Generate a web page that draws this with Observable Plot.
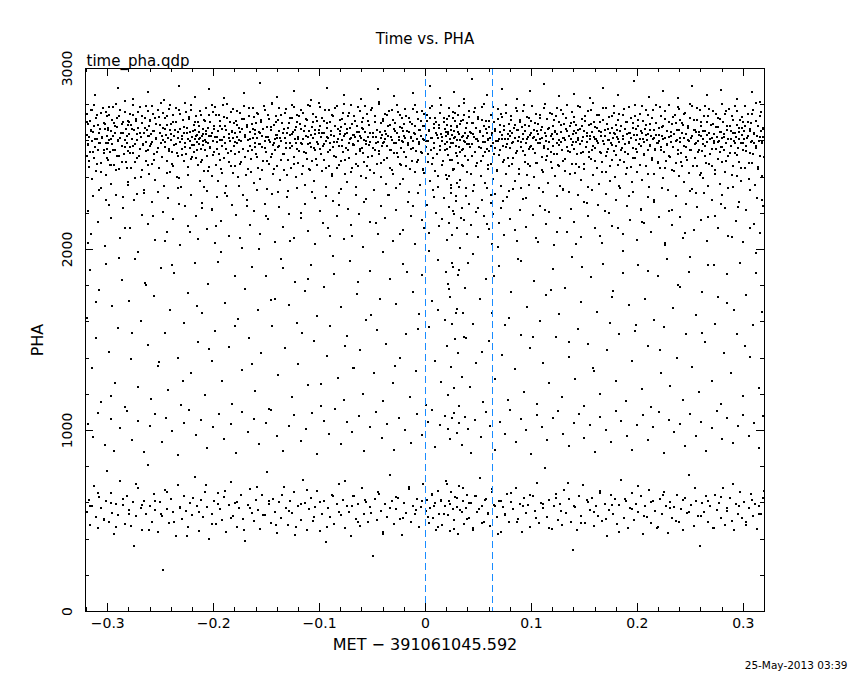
<!DOCTYPE html>
<html>
<head>
<meta charset="utf-8">
<script src="https://cdn.jsdelivr.net/npm/d3@7"></script>
<script src="https://cdn.jsdelivr.net/npm/@observablehq/plot@0.6"></script>
<style>
  html, body { margin: 0; padding: 0; background: #fff; }
  #chart { width: 850px; height: 680px; }
</style>
</head>
<body>
<div id="chart"></div>
<script>
// Texts
const titleText = "Time vs. PHA";
const fileText = "time_pha.qdp";
const xLabelText = "MET − 391061045.592";
const yLabelText = "PHA";
const dateText = "25-May-2013 03:39";

// Axis ticks
const xMajorTicks = [-0.3, -0.2, -0.1, 0, 0.1, 0.2, 0.3];
const xTickLabels = ["−0.3", "−0.2", "−0.1", "0", "0.1", "0.2", "0.3"];
const xMinorTicks = [-0.32,-0.28,-0.26,-0.24,-0.22,-0.18,-0.16,-0.14,-0.12,-0.08,-0.06,-0.04,-0.02,0.02,0.04,0.06,0.08,0.12,0.14,0.16,0.18,0.22,0.24,0.26,0.28,0.32];
const yMajorTicks = [0, 1000, 2000, 3000];
const yTickLabels = ["0", "1000", "2000", "3000"];
const yMinorTicks = [200,400,600,800,1200,1400,1600,1800,2200,2400,2600,2800];

// Vertical markers (time offset, s)
const markerTimes = [0, 0.0632];

// Events, flat pairs: time offset (ms), PHA
const eventsMainBand = [
-320,2633,-320,2517,-320,2748,-319,2581,-319,2692,-318,2456,-318,2624,-317,2709,-317,2538,-316,2661,-315,2392,-315,2597,-315,2773,-314,2648,-313,2504,-313,2682,-312,2566,-311,2727,-311,2431,-310,2613,-309,2549,-309,2688,-308,2327,-308,2641,-307,2590,-306,2756,-306,2478,-305,2622,-304,2533,-304,2701,-303,2664,-302,2409,-302,2587,-301,2739,-301,2558,-301,2627,
-300,2671,-300,2495,-299,2604,-299,2786,-298,2541,-297,2655,-297,2362,-296,2718,-296,2583,-295,2629,-294,2467,-294,2697,-293,2552,-293,2641,-292,2803,-291,2516,-291,2678,-290,2599,-289,2443,-289,2735,-288,2618,-287,2571,-287,2692,-286,2289,-286,2646,-285,2527,-284,2758,-284,2603,-283,2482,-283,2664,-282,2589,-281,2712,-281,2544,-281,2375,
-280,2637,-280,2702,-279,2568,-278,2451,-278,2689,-277,2612,-276,2743,-276,2531,-275,2658,-274,2396,-274,2582,-273,2721,-272,2639,-272,2507,-271,2673,-270,2554,-270,2786,-269,2619,-268,2438,-268,2697,-267,2576,-266,2644,-266,2312,-265,2728,-264,2593,-264,2489,-263,2661,-262,2547,-262,2764,-261,2626,-261,2415,-261,2681,
-260,2574,-260,2709,-259,2638,-258,2472,-258,2596,-257,2751,-256,2655,-256,2529,-255,2386,-254,2617,-254,2693,-253,2561,-252,2734,-252,2448,-251,2642,-250,2587,-250,2811,-249,2512,-248,2671,-248,2603,-247,2353,-246,2726,-246,2568,-245,2634,-244,2491,-244,2687,-243,2615,-242,2543,-242,2779,-241,2659,-241,2427,
-240,2606,-240,2692,-239,2538,-238,2744,-238,2461,-237,2627,-236,2583,-236,2706,-235,2402,-234,2651,-234,2519,-233,2772,-232,2596,-232,2663,-231,2345,-230,2629,-230,2554,-229,2718,-228,2487,-228,2645,-227,2591,-226,2759,-226,2526,-225,2674,-224,2412,-224,2608,-223,2733,-222,2562,-222,2648,-221,2499,-221,2801,
-220,2623,-220,2578,-219,2687,-219,2541,-218,2612,-218,2659,-217,2504,-217,2738,-216,2596,-216,2631,-215,2467,-215,2702,-214,2584,-214,2648,-213,2379,-213,2616,-212,2553,-212,2741,-211,2629,-211,2492,-210,2668,-210,2597,-209,2432,-209,2715,-208,2606,-208,2547,-207,2782,-207,2638,-206,2518,-206,2321,-205,2674,-205,2589,-204,2456,-204,2627,-203,2703,-203,2561,-202,2642,-202,2408,-201,2598,-201,2757,
-200,2536,-200,2684,-199,2621,-198,2469,-198,2743,-197,2592,-196,2657,-196,2381,-195,2528,-194,2711,-194,2604,-193,2447,-192,2668,-192,2574,-191,2796,-190,2619,-190,2503,-189,2683,-188,2351,-188,2556,-187,2727,-186,2637,-186,2481,-185,2599,-184,2761,-184,2546,-183,2652,-182,2424,-182,2614,-181,2698,-181,2571,
-180,2642,-180,2463,-179,2709,-178,2586,-178,2624,-177,2398,-176,2673,-176,2537,-175,2754,-174,2601,-174,2484,-173,2665,-172,2558,-172,2302,-171,2719,-170,2633,-170,2512,-169,2689,-168,2446,-168,2607,-167,2781,-166,2572,-166,2649,-165,2427,-164,2694,-164,2551,-163,2618,-162,2366,-162,2733,-161,2589,-161,2662,
-160,2527,-160,2699,-159,2614,-158,2452,-158,2746,-157,2583,-156,2641,-156,2391,-155,2707,-154,2566,-154,2629,-153,2488,-152,2768,-152,2602,-151,2539,-150,2676,-150,2337,-149,2621,-148,2723,-148,2475,-147,2596,-146,2658,-146,2513,-145,2804,-144,2577,-144,2417,-143,2686,-142,2609,-142,2548,-141,2737,-141,2634,
-140,2462,-140,2618,-139,2713,-138,2574,-138,2655,-137,2386,-136,2601,-136,2742,-135,2529,-134,2668,-134,2441,-133,2617,-132,2776,-132,2559,-131,2643,-130,2496,-130,2322,-129,2701,-128,2586,-128,2632,-127,2453,-126,2724,-126,2571,-125,2648,-124,2509,-124,2789,-123,2612,-122,2398,-122,2677,-121,2554,-121,2706,
-120,2623,-120,2478,-119,2739,-118,2591,-118,2664,-117,2415,-116,2608,-116,2753,-115,2537,-114,2681,-114,2359,-113,2626,-112,2502,-112,2717,-111,2584,-110,2653,-110,2444,-109,2794,-108,2569,-108,2631,-107,2487,-106,2706,-106,2615,-105,2376,-104,2662,-104,2548,-103,2733,-102,2595,-102,2469,-101,2641,-101,2812,
-100,2556,-100,2684,-99,2619,-98,2432,-98,2728,-97,2573,-96,2646,-96,2495,-95,2768,-94,2601,-94,2344,-93,2671,-92,2538,-92,2617,-91,2462,-90,2703,-90,2589,-89,2657,-88,2408,-88,2741,-87,2567,-86,2629,-86,2519,-85,2782,-84,2596,-84,2448,-83,2663,-82,2574,-82,2311,-81,2716,-81,2638,
-80,2491,-80,2677,-79,2603,-78,2752,-78,2536,-77,2628,-76,2419,-76,2694,-75,2561,-74,2645,-74,2372,-73,2736,-72,2587,-72,2508,-71,2669,-70,2614,-70,2797,-69,2453,-68,2633,-68,2578,-67,2712,-66,2527,-66,2348,-65,2684,-64,2599,-64,2461,-63,2651,-62,2764,-62,2542,-61,2618,-61,2406,
-60,2673,-60,2559,-59,2726,-58,2482,-58,2607,-57,2649,-56,2393,-56,2581,-55,2749,-54,2624,-54,2511,-53,2688,-52,2437,-52,2596,-51,2783,-50,2563,-50,2641,-49,2326,-48,2706,-48,2547,-47,2619,-46,2474,-46,2662,-45,2592,-44,2817,-44,2529,-43,2648,-42,2401,-42,2697,-41,2571,-41,2634,
-40,2588,-40,2719,-39,2496,-38,2654,-38,2612,-37,2361,-36,2743,-36,2574,-35,2627,-34,2453,-34,2689,-33,2549,-32,2771,-32,2606,-31,2418,-30,2663,-30,2532,-29,2698,-28,2587,-28,2339,-27,2646,-26,2512,-26,2757,-25,2621,-24,2474,-24,2679,-23,2563,-22,2729,-22,2601,-21,2387,-21,2652,
-20,2538,-20,2692,-19,2614,-18,2463,-18,2738,-17,2576,-16,2649,-16,2318,-15,2702,-14,2557,-14,2623,-13,2489,-12,2776,-12,2598,-11,2641,-10,2426,-10,2681,-9,2545,-8,2613,-8,2758,-7,2497,-6,2662,-6,2583,-5,2354,-4,2709,-4,2627,-3,2531,-2,2685,-2,2442,-1,2604,-1,2747,
0,2566,0,2633,1,2712,2,2481,2,2598,3,2654,4,2377,4,2727,5,2552,6,2618,6,2793,7,2503,8,2672,8,2589,9,2436,10,2641,10,2705,11,2528,12,2614,12,2345,13,2688,14,2571,14,2754,15,2637,16,2465,16,2602,17,2729,18,2548,18,2667,19,2413,19,2626,
20,2594,20,2687,21,2521,21,2648,22,2739,22,2407,23,2612,23,2566,24,2683,24,2358,25,2631,25,2497,26,2762,26,2587,27,2654,27,2443,28,2619,28,2709,29,2532,29,2298,30,2676,30,2603,31,2478,31,2745,32,2569,32,2637,33,2386,33,2691,34,2551,34,2622,35,2718,35,2463,36,2598,36,2807,37,2645,37,2514,38,2672,38,2339,39,2583,39,2701,
40,2626,40,2492,41,2734,42,2568,42,2651,43,2419,44,2697,44,2583,45,2637,46,2356,46,2758,47,2541,48,2612,48,2673,49,2476,50,2722,50,2597,51,2649,52,2404,52,2561,53,2786,54,2628,54,2519,55,2684,56,2592,56,2367,57,2711,58,2554,58,2641,59,2468,59,2603,
60,2679,60,2546,61,2617,62,2742,62,2473,63,2633,64,2588,64,2391,65,2704,66,2562,66,2656,67,2437,68,2775,68,2599,69,2524,70,2647,70,2688,71,2352,72,2613,72,2731,73,2571,74,2493,74,2662,75,2609,76,2418,76,2753,77,2584,78,2638,78,2507,79,2694,79,2321,
80,2627,80,2559,81,2718,82,2475,82,2643,83,2596,84,2381,84,2687,85,2532,86,2659,86,2764,87,2601,88,2446,88,2624,89,2713,90,2567,90,2338,91,2676,92,2542,92,2611,93,2797,94,2486,94,2653,95,2588,96,2412,96,2731,97,2619,98,2553,98,2682,99,2463,99,2634,
100,2708,100,2571,101,2617,102,2398,102,2662,103,2534,104,2751,104,2606,105,2477,106,2639,106,2692,107,2341,108,2586,108,2724,109,2658,110,2512,110,2617,111,2429,112,2781,112,2573,113,2646,114,2492,114,2601,115,2719,116,2555,116,2368,117,2674,118,2628,118,2537,119,2749,119,2451,
120,2613,120,2682,121,2528,122,2657,122,2404,123,2739,124,2591,124,2636,125,2466,126,2702,126,2578,127,2352,128,2649,128,2773,129,2547,130,2618,130,2489,131,2691,132,2603,132,2432,133,2728,134,2566,134,2654,135,2315,136,2681,136,2539,137,2612,138,2758,138,2471,139,2637,139,2592,
140,2704,140,2556,141,2421,142,2643,142,2689,143,2527,144,2614,144,2792,145,2458,146,2668,146,2581,147,2384,148,2721,148,2602,149,2536,150,2652,150,2473,151,2737,152,2594,152,2627,153,2343,154,2686,154,2541,155,2611,156,2769,156,2498,157,2647,158,2572,158,2413,159,2703,159,2624,
160,2559,160,2679,161,2612,162,2448,162,2741,163,2587,164,2654,164,2362,165,2706,166,2532,166,2629,167,2484,168,2783,168,2598,169,2661,170,2517,170,2426,171,2694,172,2606,172,2553,173,2732,174,2378,174,2641,175,2587,176,2672,176,2495,177,2614,178,2756,178,2543,179,2637,179,2402,
180,2689,180,2574,181,2621,182,2467,182,2715,183,2596,184,2338,184,2652,185,2549,186,2744,186,2611,187,2483,188,2668,188,2581,189,2419,190,2703,190,2637,191,2526,192,2786,192,2592,193,2644,194,2455,194,2618,195,2371,196,2697,196,2563,197,2631,198,2508,198,2738,199,2604,199,2667,
200,2537,200,2429,201,2683,202,2612,202,2749,203,2571,204,2646,204,2386,205,2711,206,2524,206,2593,207,2667,208,2461,208,2772,209,2604,210,2548,210,2638,211,2343,212,2692,212,2579,213,2626,214,2497,214,2727,215,2613,216,2418,216,2659,217,2556,218,2801,218,2634,219,2482,219,2587,
220,2672,220,2601,221,2452,222,2738,222,2567,223,2629,224,2393,224,2684,225,2541,226,2617,226,2765,227,2488,228,2653,228,2576,229,2327,230,2706,230,2622,231,2513,232,2648,232,2592,233,2441,234,2731,234,2569,235,2638,236,2476,236,2697,237,2606,238,2788,238,2547,239,2661,239,2404,
240,2594,240,2713,241,2531,242,2643,242,2462,243,2687,244,2617,244,2371,245,2752,246,2568,246,2639,247,2496,248,2674,248,2603,249,2423,250,2729,250,2552,251,2618,252,2792,252,2337,253,2661,254,2583,254,2508,255,2647,256,2716,256,2459,257,2598,258,2633,258,2549,259,2768,259,2412,
260,2626,260,2684,261,2543,262,2611,262,2397,263,2739,264,2574,264,2653,265,2478,266,2702,266,2596,267,2349,268,2641,268,2777,269,2529,270,2618,270,2462,271,2693,272,2587,272,2637,273,2416,274,2746,274,2558,275,2623,276,2501,276,2679,277,2602,278,2362,278,2723,279,2567,279,2648,
280,2486,280,2614,281,2703,282,2552,282,2637,283,2428,284,2764,284,2591,285,2658,286,2517,286,2341,287,2682,288,2609,288,2574,289,2738,290,2463,290,2646,291,2598,292,2793,292,2531,293,2621,294,2404,294,2689,295,2563,296,2647,296,2482,297,2714,298,2588,298,2376,299,2632,299,2669,
300,2547,300,2706,301,2612,302,2453,302,2681,303,2573,304,2751,304,2628,305,2389,306,2657,306,2534,307,2698,308,2601,308,2477,309,2769,310,2586,310,2643,311,2358,312,2712,312,2561,313,2628,314,2443,314,2684,315,2597,316,2519,316,2735,317,2652,318,2408,318,2589,319,2671,319,2624
];

const eventsMainBandB = [
-319.6,2702,-318.3,2577,-317.8,2491,-316.1,2768,-315.4,2655,-313.7,2538,-313.2,2796,-311.9,2612,-310.4,2474,-309.8,2741,-308.6,2589,-307.1,2667,-306.7,2426,-305.2,2618,-304.9,2781,-303.3,2548,-302.6,2695,-301.4,2761,-300.7,2503,-300.2,2659,
-299.3,2587,-298.7,2742,-297.4,2469,-296.8,2613,-295.1,2790,-294.6,2552,-293.3,2681,-292.4,2437,-291.7,2726,-290.2,2604,-289.5,2518,-288.1,2773,-287.4,2641,-286.6,2485,-285.3,2702,-284.1,2569,-283.7,2818,-282.2,2626,-281.5,2451,-280.6,2688,
-279.4,2749,-278.8,2532,-277.3,2664,-276.4,2798,-275.7,2571,-274.2,2482,-273.5,2712,-272.1,2606,-271.6,2758,-270.3,2519,-269.2,2645,-268.6,2401,-267.4,2736,-266.7,2583,-265.2,2672,-264.3,2794,-263.8,2544,-262.4,2627,-261.7,2466,-260.4,2713,
-259.3,2581,-258.6,2794,-257.4,2653,-256.2,2497,-255.7,2724,-254.3,2612,-253.6,2537,-252.2,2771,-251.5,2448,-250.6,2689,-249.1,2626,-248.4,2509,-247.8,2752,-246.3,2592,-245.6,2668,-244.2,2423,-243.6,2739,-242.4,2555,-241.2,2801,-240.6,2637,
-239.4,2472,-238.3,2706,-237.7,2578,-236.2,2659,-235.6,2783,-234.4,2531,-233.3,2614,-232.7,2396,-231.4,2747,-230.2,2608,-229.6,2521,-228.3,2679,-227.4,2812,-226.7,2566,-225.3,2641,-224.7,2458,-223.4,2723,-222.2,2597,-221.6,2769,-220.4,2512,
-219.7,2654,-218.6,2577,-217.8,2703,-216.4,2629,-215.7,2548,-214.3,2681,-213.6,2612,-212.5,2767,-211.8,2483,-210.4,2638,-209.7,2579,-208.3,2712,-207.4,2596,-206.8,2652,-205.3,2434,-204.6,2741,-203.4,2569,-202.7,2627,-201.3,2796,-200.6,2521,
-199.4,2663,-198.6,2789,-197.3,2553,-196.7,2621,-195.4,2744,-194.2,2496,-193.6,2682,-192.3,2607,-191.7,2421,-190.4,2734,-189.3,2588,-188.7,2659,-187.2,2803,-186.6,2531,-185.4,2617,-184.7,2702,-183.3,2462,-182.4,2649,-181.7,2774,-180.3,2594,
-179.6,2528,-178.4,2687,-177.6,2766,-176.3,2605,-175.5,2471,-174.7,2648,-173.2,2723,-172.6,2557,-171.3,2794,-170.7,2621,-169.4,2409,-168.3,2676,-167.6,2543,-166.2,2739,-165.7,2612,-164.4,2498,-163.2,2664,-162.7,2781,-161.4,2569,-160.6,2636,
-159.3,2752,-158.7,2513,-157.4,2647,-156.6,2581,-155.3,2716,-154.4,2437,-153.7,2668,-152.3,2794,-151.6,2559,-150.4,2622,-149.7,2488,-148.3,2741,-147.6,2603,-146.2,2676,-145.4,2527,-144.7,2809,-143.3,2589,-142.6,2445,-141.3,2703,-140.5,2634,
-139.6,2567,-138.3,2782,-137.7,2618,-136.4,2492,-135.3,2701,-134.7,2643,-133.4,2529,-132.6,2755,-131.3,2587,-130.7,2411,-129.4,2672,-128.3,2724,-127.6,2561,-126.2,2636,-125.7,2798,-124.4,2473,-123.3,2658,-122.6,2591,-121.4,2741,-120.3,2612,
-119.6,2546,-118.4,2694,-117.7,2773,-116.3,2582,-115.6,2463,-114.4,2657,-113.2,2719,-112.7,2534,-111.4,2621,-110.6,2801,-109.3,2589,-108.7,2437,-107.3,2678,-106.4,2746,-105.6,2563,-104.3,2637,-103.7,2498,-102.4,2712,-101.6,2581,-100.3,2659,
-99.6,2786,-98.4,2527,-97.7,2643,-96.3,2711,-95.6,2584,-94.4,2452,-93.2,2697,-92.6,2621,-91.4,2768,-90.3,2549,-89.7,2632,-88.4,2419,-87.3,2739,-86.6,2596,-85.4,2681,-84.7,2513,-83.3,2792,-82.4,2608,-81.7,2467,-80.4,2655,
-79.3,2719,-78.6,2573,-77.4,2806,-76.3,2638,-75.7,2492,-74.4,2667,-73.3,2547,-72.6,2753,-71.3,2611,-70.6,2428,-69.4,2694,-68.3,2582,-67.7,2736,-66.4,2619,-65.3,2471,-64.6,2648,-63.4,2789,-62.3,2556,-61.6,2627,-60.4,2703,
-59.3,2534,-58.6,2667,-57.4,2792,-56.3,2601,-55.7,2459,-54.4,2712,-53.2,2578,-52.7,2643,-51.4,2769,-50.3,2516,-49.6,2624,-48.4,2421,-47.3,2736,-46.7,2589,-45.4,2662,-44.3,2804,-43.6,2545,-42.3,2615,-41.7,2478,-40.4,2708,
-39.3,2596,-38.6,2751,-37.4,2639,-36.3,2503,-35.6,2684,-34.4,2766,-33.3,2552,-32.7,2621,-31.4,2439,-30.3,2718,-29.6,2587,-28.4,2653,-27.3,2797,-26.7,2531,-25.4,2606,-24.3,2742,-23.6,2468,-22.4,2673,-21.3,2592,-20.6,2629,
-19.4,2778,-18.6,2512,-17.3,2654,-16.7,2587,-15.4,2729,-14.3,2446,-13.6,2618,-12.4,2693,-11.7,2561,-10.3,2801,-9.6,2637,-8.4,2484,-7.3,2719,-6.6,2592,-5.4,2661,-4.3,2537,-3.7,2764,-2.4,2609,-1.3,2423,-0.6,2683,
0.4,2597,1.6,2741,2.3,2529,3.7,2658,4.4,2783,5.6,2614,6.3,2472,7.7,2696,8.4,2563,9.3,2727,10.6,2631,11.4,2404,12.7,2672,13.3,2548,14.6,2796,15.4,2619,16.7,2487,17.3,2703,18.6,2582,19.4,2648,
20.3,2719,20.7,2553,21.4,2636,22.6,2784,23.3,2497,23.8,2662,24.4,2591,25.6,2728,26.3,2442,26.7,2618,27.4,2756,28.6,2571,29.3,2683,29.7,2514,30.4,2647,31.6,2792,32.3,2536,32.7,2603,33.4,2712,34.6,2468,35.3,2629,35.7,2557,36.4,2741,37.6,2594,38.3,2671,38.7,2428,39.4,2616,
40.6,2763,41.3,2582,42.7,2644,43.4,2516,44.6,2697,45.3,2621,46.7,2783,47.4,2462,48.6,2608,49.3,2734,50.7,2569,51.4,2652,52.6,2491,53.3,2718,54.7,2596,55.4,2806,56.6,2537,57.3,2664,58.7,2611,59.4,2443,
60.3,2708,61.6,2574,62.4,2641,63.7,2789,64.3,2528,65.6,2667,66.4,2598,67.7,2432,68.3,2721,69.6,2613,70.4,2552,71.7,2746,72.3,2635,73.6,2486,74.4,2683,75.7,2567,76.3,2798,77.6,2612,78.4,2459,79.7,2652,
80.4,2737,81.6,2589,82.3,2503,83.7,2671,84.4,2617,85.6,2781,86.3,2546,87.7,2659,88.4,2418,89.6,2703,90.3,2592,91.7,2637,92.4,2764,93.6,2524,94.3,2686,95.7,2609,96.4,2471,97.6,2727,98.3,2568,99.7,2644,
100.4,2791,101.6,2553,102.3,2621,103.7,2698,104.4,2476,105.6,2654,106.3,2587,107.7,2742,108.4,2612,109.6,2438,110.3,2679,111.7,2561,112.4,2803,113.6,2627,114.3,2514,115.7,2668,116.4,2592,117.6,2754,118.3,2483,119.7,2636,
120.3,2574,121.6,2716,122.4,2649,123.7,2527,124.3,2781,125.6,2603,126.4,2461,127.7,2687,128.3,2592,129.6,2748,130.4,2615,131.7,2502,132.3,2664,133.6,2796,134.4,2543,135.7,2627,136.3,2418,137.6,2701,138.4,2578,139.7,2653,
140.3,2733,141.6,2596,142.4,2472,143.7,2659,144.3,2607,145.6,2788,146.4,2531,147.7,2684,148.3,2619,149.6,2443,150.4,2712,151.7,2568,152.3,2641,153.6,2765,154.4,2509,155.7,2627,156.3,2694,157.6,2552,158.4,2807,159.7,2613,
160.4,2487,161.6,2672,162.3,2598,163.7,2744,164.4,2536,165.6,2651,166.3,2427,167.7,2718,168.4,2583,169.6,2629,170.3,2782,171.7,2541,172.4,2667,173.6,2604,174.3,2463,175.7,2739,176.4,2577,177.6,2646,178.3,2793,179.7,2521,
180.3,2658,181.6,2612,182.4,2749,183.7,2493,184.3,2681,185.6,2563,186.4,2627,187.7,2776,188.3,2538,189.6,2702,190.4,2451,191.7,2644,192.3,2589,193.6,2727,194.4,2616,195.7,2504,196.3,2673,197.6,2798,198.4,2557,199.7,2631,
200.3,2716,201.6,2582,202.4,2467,203.7,2653,204.3,2791,205.6,2609,206.4,2526,207.7,2687,208.3,2634,209.6,2419,210.4,2742,211.7,2571,212.3,2658,213.6,2503,214.4,2769,215.7,2614,216.3,2547,217.6,2701,218.4,2589,219.7,2476,
220.4,2633,221.6,2787,222.3,2552,223.7,2676,224.4,2609,225.6,2448,226.3,2721,227.7,2583,228.4,2654,229.6,2798,230.3,2517,231.7,2627,232.4,2694,233.6,2568,234.3,2436,235.7,2743,236.4,2601,237.6,2662,238.3,2529,239.7,2776,
240.4,2618,241.6,2483,242.3,2697,243.7,2574,244.4,2751,245.6,2639,246.3,2512,247.7,2683,248.4,2597,249.6,2804,250.3,2548,251.7,2626,252.4,2459,253.6,2715,254.3,2661,255.7,2587,256.4,2782,257.6,2536,258.3,2649,259.7,2423,
260.3,2706,261.6,2581,262.4,2657,263.7,2794,264.3,2518,265.6,2632,266.4,2739,267.7,2473,268.3,2611,269.6,2688,270.4,2557,271.7,2763,272.3,2602,273.6,2441,274.4,2676,275.7,2593,276.3,2727,277.6,2541,278.4,2648,279.7,2806,
280.3,2567,281.6,2624,282.4,2749,283.7,2491,284.3,2683,285.6,2612,286.4,2778,287.7,2533,288.3,2656,289.6,2409,290.4,2717,291.7,2589,292.3,2642,293.6,2764,294.4,2521,295.7,2673,296.3,2608,297.6,2452,298.4,2731,299.7,2586,
300.4,2653,301.6,2791,302.3,2544,303.7,2618,304.4,2702,305.6,2479,306.3,2667,307.7,2593,308.4,2746,309.6,2528,310.3,2639,311.7,2812,312.4,2571,313.6,2684,314.3,2456,315.7,2621,316.4,2758,317.6,2597,318.3,2663,319.4,2512
];

const eventsHighOutliers = [
-312,2852,-290,2893,-276,2834,-262,2871,-247,2826,-233,2904,-218,2843,-204,2886,-190,2837,-171,2862,-156,2921,-140,2845,-124,2873,-108,2828,-93,2891,-77,2854,-61,2833,-45,2884,-30,2847,-12,2866,4,2903,14,2838,27,2871,36,2829,44,2942,58,2856,72,2887,86,2832,99,2874,112,2913,126,2846,140,2861,155,2835,168,2894,182,2853,197,2931,211,2842,224,2876,238,2836,252,2902,266,2851,279,2883,294,2834,308,2872,316,2815
];

const eventsShoulder = [
-319,2214,-316,2087,-314,2296,-309,2151,-306,2338,-303,2019,-299,2247,-297,2173,-292,2302,-288,2064,-286,2229,-281,2356,-279,2118,-275,2271,-271,1986,-268,2193,-266,2327,-262,2142,-258,2263,-255,2051,-253,2318,-248,2206,-244,2095,-243,2283,-238,2167,-234,2342,-232,2024,-227,2238,-224,2129,-221,2301,-217,2186,-215,2059,-211,2257,-209,2348,-206,2112,-202,2221,-199,2034,-197,2292,-193,2158,-189,2313,-186,2077,-183,2244,-179,2191,-176,2352,-173,2009,-169,2276,-166,2137,-162,2215,-159,2331,-156,2083,-152,2249,-149,2168,-145,2307,-142,2041,-138,2234,-135,2123,-131,2288,-129,2197,-124,2063,-121,2341,-118,2176,-114,2253,-111,2102,-107,2319,-104,2028,-100,2211,-97,2147,-94,2296,-90,2072,-87,2268,-84,2185,-80,2336,-77,2057,-73,2223,-70,2134,-66,2303,-63,2198,-59,2016,-56,2279,-52,2153,-49,2327,-45,2088,-42,2241,-38,2172,-35,2299,-31,2046,-28,2218,-24,2361,-21,2109,-17,2264,-14,2187,-10,2033,-7,2312,-3,2161,
1,2247,3,2092,7,2328,10,2204,13,2131,17,2286,20,2054,22,2237,22,2146,24,2313,25,2079,27,2195,29,2268,30,2121,32,2344,33,2008,34,2229,36,2162,38,2297,39,2085,41,2251,43,2137,45,2322,48,2208,50,2067,53,2273,55,2186,58,2339,60,2113,62,2258,63,2031,64,2194,66,2306,69,2147,71,2231,74,2078,77,2289,80,2168,83,2335,86,2049,89,2216,92,2281,95,2127,98,2354,101,2189,104,2061,108,2243,111,2318,114,2141,117,2209,121,2026,124,2295,127,2172,130,2337,134,2094,137,2226,140,2153,144,2301,147,2069,150,2262,153,2184,157,2329,160,2117,163,2245,167,2038,170,2307,173,2199,176,2131,180,2276,183,2352,186,2086,190,2238,193,2163,196,2317,200,2052,203,2221,206,2144,210,2289,213,2097,216,2265,220,2178,223,2341,226,2024,230,2213,233,2136,236,2298,240,2179,243,2062,246,2249,250,2325,253,2107,256,2236,260,2162,263,2313,266,2045,270,2271,273,2187,276,2118,280,2302,283,2229,286,2073,290,2347,293,2156,296,2261,300,2039,303,2218,306,2331,310,2142,313,2286,316,2091,319,2243
];

const eventsMiddle = [
-320,1623,-317,1884,-315,1347,-311,1512,-308,1776,-306,1158,-302,1921,-299,1436,-296,1689,-293,1263,-290,1567,-287,1832,-284,1129,-280,1714,-278,1395,-274,1948,-271,1238,-269,1604,-265,1816,-262,1471,-259,1176,-256,1742,-253,1359,-250,1897,-246,1537,-243,1224,-241,1668,-237,1871,-234,1402,-231,1143,-228,1593,-224,1759,-221,1318,-218,1926,-215,1487,-211,1651,-208,1196,-205,1807,-202,1382,-199,1549,-196,1933,-192,1271,-189,1706,-186,1462,-183,1148,-180,1851,-177,1618,-173,1337,-170,1783,-167,1509,-164,1902,-161,1217,-158,1663,-155,1429,-151,1854,-148,1121,-145,1579,-142,1728,-139,1306,-136,1947,-133,1455,-129,1692,-126,1183,-123,1823,-120,1368,-117,1541,-114,1768,-111,1249,-108,1914,-105,1492,-102,1634,-99,1137,-96,1795,-93,1413,-90,1579,-86,1866,-83,1292,-80,1685,-77,1168,-74,1521,-71,1939,-68,1347,-65,1752,-62,1446,-59,1201,-56,1613,-52,1883,-49,1318,-46,1557,-43,1724,-40,1162,-37,1478,-34,1839,-31,1261,-28,1697,-24,1403,-21,1918,-18,1534,-15,1186,-12,1766,-9,1328,-6,1642,-3,1857,
0,1142,3,1574,6,1718,9,1386,12,1943,15,1267,18,1611,20,1468,21,1809,21,1196,23,1736,24,1352,25,1589,26,1902,27,1235,28,1508,30,1674,31,1427,31,1861,32,1133,34,1297,35,1647,37,1785,38,1512,40,1924,42,1243,45,1587,48,1372,51,1729,54,1158,57,1836,60,1496,63,1651,66,1283,69,1907,72,1419,75,1584,78,1171,81,1766,84,1338,87,1945,90,1529,93,1213,96,1681,99,1455,102,1828,105,1149,108,1603,111,1372,114,1749,117,1261,120,1893,123,1518,126,1644,129,1185,132,1787,135,1406,138,1956,141,1283,144,1561,147,1712,150,1137,153,1478,156,1848,159,1329,162,1652,165,1203,168,1921,171,1447,174,1596,177,1768,180,1274,183,1533,186,1869,189,1162,192,1691,195,1382,198,1547,201,1917,204,1228,207,1729,210,1466,213,1131,216,1608,219,1853,222,1317,225,1574,228,1946,231,1248,234,1679,237,1402,240,1795,243,1169,246,1532,249,1873,252,1351,255,1638,258,1212,261,1764,264,1489,267,1917,270,1273,273,1588,276,1737,279,1144,282,1429,285,1862,288,1318,291,1667,294,1533,297,1924,300,1191,303,1748,306,1407,309,1582,312,1869,315,1236,318,1654
];

const eventsMiddleB = [
-318.4,2034,-310.7,1712,-301.2,2276,-296.5,1188,-289.3,1954,-283.6,2121,-276.8,1537,-272.2,2308,-263.7,1806,-257.3,2187,-251.9,1376,-246.4,2049,-239.7,1913,-233.1,2254,-229.4,1276,-222.6,2098,-216.2,1689,-210.8,2227,-204.5,1452,-197.6,2131,-193.4,1987,-187.8,2295,-180.2,1578,-174.7,2066,-168.3,2241,-163.6,1367,-157.1,2002,-150.9,2184,-146.3,1723,-139.5,2319,-134.8,1896,-128.2,2047,-121.7,1594,-117.3,2203,-110.5,1839,-104.2,2286,-98.6,1257,-92.3,2119,-87.7,1962,-81.4,2248,-75.8,1468,-69.3,2073,-63.5,1821,-58.2,2264,-51.6,1639,-46.7,2148,-40.3,1988,-34.6,2301,-29.2,1357,-23.8,2086,-17.4,1874,-12.1,2239,-6.7,1561,-1.4,2119,
3.3,1994,7.8,2292,11.4,1667,15.7,2167,19.3,1874,20.6,2391,22.4,1783,23.6,2342,24.7,1926,26.4,2212,28.3,1651,29.6,2367,31.3,1888,33.7,2173,36.4,1517,39.2,2088,44.6,1975,49.3,2228,53.7,1432,58.4,2141,61.7,2302,64.6,1853,68.2,2016,73.4,2269,78.6,1624,84.3,2107,89.7,1936,95.2,2282,101.6,1519,106.3,2043,112.4,2216,118.7,1774,124.3,2097,129.6,2331,135.2,1488,141.7,2029,147.3,1902,152.6,2258,158.4,1346,164.7,2076,169.3,2213,175.6,1737,181.4,2118,186.7,1993,192.3,2296,198.6,1583,204.4,2154,209.7,1879,215.3,2271,221.6,1442,226.4,2037,232.7,2219,238.3,1806,244.6,2092,249.4,1961,255.7,2313,261.3,1537,266.6,2182,272.4,1916,278.7,2254,284.3,1703,289.6,2068,295.4,2236,301.7,1468,306.3,2121,311.6,1982,317.2,2276
];

const eventsNear1000 = [
-319,1034,-314,962,-309,1097,-303,918,-297,1061,-294,884,-288,1012,-282,1108,-277,947,-271,1053,-266,879,-260,1024,-255,1093,-249,938,-245,1071,-239,996,-234,867,-228,1043,-223,1112,-217,975,-212,1058,-206,903,-201,1017,-195,1089,-190,951,-184,1036,-179,874,-173,1102,-168,989,-162,1066,-157,923,-151,1041,-146,1115,-140,968,-135,889,-129,1027,-124,1084,-118,942,-113,1009,-107,1097,-102,871,-96,1052,-91,983,-85,1118,-80,927,-74,1046,-69,991,-63,1079,-58,886,-52,1021,-47,1104,-41,957,-36,1038,-30,893,-25,1069,-19,1002,-14,932,-8,1091,-3,974,
2,1047,6,1113,9,909,14,1028,18,1082,21,1006,23,953,25,1067,27,1098,30,984,32,1039,34,922,37,1074,40,1011,43,877,47,1056,52,962,57,1103,61,1027,66,894,70,1048,75,979,80,1112,85,938,90,1063,95,1004,100,869,105,1087,110,1019,115,945,120,1069,125,1108,130,983,135,916,140,1044,145,1091,150,958,155,1032,160,882,165,1075,170,1003,175,937,180,1109,185,1051,190,968,195,893,200,1028,205,1084,210,949,215,1017,220,1101,225,874,230,1059,235,992,240,1037,245,913,250,1092,255,971,260,1046,265,886,270,1013,275,1106,280,954,285,1071,290,931,295,1024,300,1088,305,967,310,1043,315,902,319,1079
];

const eventsLowBand = [
-320,548,-318,617,-317,479,-315,583,-313,692,-311,521,-309,463,-308,634,-306,571,-304,508,-302,611,-301,776,-299,497,-297,652,-296,544,-294,428,-292,596,-290,533,-288,721,-286,587,-284,486,-282,638,-280,559,-278,473,-276,604,-275,362,-273,526,-271,683,-269,574,-268,451,-266,612,-264,537,-262,809,-260,584,-258,492,-256,647,-255,563,-253,438,-251,605,-249,529,-248,232,-246,671,-244,566,-242,487,-240,622,-238,548,-236,419,-234,698,-232,579,-230,512,-228,639,-226,557,-224,468,-222,601,-220,532,-218,745,-216,583,-214,447,-212,618,-210,524,-208,662,-206,576,-204,403,-202,541,-200,609,-198,482,-196,654,-194,568,-192,506,-190,631,-188,437,-186,589,-184,713,-182,527,-180,602,-178,468,-176,573,-174,641,-172,509,-170,392,-168,586,-166,677,-164,546,-162,498,-160,618,-158,563,-156,456,-154,644,-152,531,-150,771,-148,592,-146,488,-144,623,-142,551,-140,431,-138,604,-136,519,-134,689,-132,572,-130,477,-128,613,-126,542,-124,658,-122,466,-120,584,-118,508,-116,727,-114,597,-112,449,-110,566,-108,627,-106,501,-104,578,-102,663,-100,443,-98,539,-96,612,-94,386,-92,571,-90,524,-88,641,-86,483,-84,594,-82,703,-80,532,-78,617,-76,462,-74,581,-72,549,-70,418,-68,636,-66,513,-64,592,-62,471,-60,684,-58,538,-56,603,-54,497,-52,575,-50,309,-48,622,-46,506,-44,647,-42,558,-40,439,-38,593,-36,521,-34,756,-32,612,-30,484,-28,567,-26,628,-24,509,-22,423,-20,601,-18,546,-16,679,-14,492,-12,583,-10,536,-8,624,-6,465,-4,578,-2,702,
0,553,1,618,3,487,4,571,6,642,7,518,9,598,10,453,12,667,13,539,15,612,16,476,18,582,19,721,21,531,22,608,23,447,24,659,26,566,27,503,28,632,30,578,31,426,32,693,34,549,35,611,36,482,38,573,39,644,41,515,43,597,45,461,47,636,49,551,51,738,53,584,55,496,57,622,59,543,61,474,63,658,65,587,67,521,69,613,71,441,73,576,75,532,77,648,79,497,81,605,83,566,85,682,87,512,89,594,91,437,93,627,95,545,97,588,99,468,101,639,103,553,105,712,107,489,109,602,111,574,113,793,115,521,117,617,119,456,121,583,123,648,125,507,127,592,129,478,131,671,133,546,135,619,137,493,139,338,141,576,143,452,145,637,147,529,149,697,151,487,153,603,155,561,157,628,159,474,161,584,163,527,165,654,167,501,169,596,171,415,173,563,175,642,177,538,179,619,181,482,183,587,185,726,187,514,189,608,191,463,193,571,195,652,197,508,199,593,201,547,203,636,205,429,207,582,209,524,211,673,213,489,215,611,217,556,219,468,221,624,223,537,225,659,227,582,229,433,231,604,233,518,235,576,237,641,239,496,241,567,243,451,245,629,247,543,249,752,251,587,253,474,255,612,257,529,259,364,261,598,263,548,265,637,267,493,269,583,271,461,273,646,275,559,277,602,279,517,281,684,283,478,285,573,287,627,289,502,291,448,293,596,295,541,297,662,299,518,301,607,303,479,305,574,307,648,309,526,311,592,313,457,315,583,317,541,319,628
];

const eventsLowBandB = [
-316.7,582,-309.3,655,-303.6,512,-297.2,597,-291.8,468,-285.4,623,-279.6,541,-273.3,704,-267.8,587,-261.4,449,-255.7,612,-249.3,536,-243.6,659,-237.2,493,-231.7,574,-225.3,417,-219.6,628,-213.4,552,-207.7,701,-201.3,481,-195.6,593,-189.4,664,-183.2,518,-177.7,607,-171.3,452,-165.6,571,-159.4,686,-153.3,534,-147.6,611,-141.2,476,-135.7,643,-129.3,558,-123.6,422,-117.4,596,-111.7,672,-105.3,521,-99.6,604,-93.2,469,-87.7,638,-81.4,547,-75.6,721,-69.3,582,-63.7,496,-57.2,615,-51.6,543,-45.3,662,-39.7,428,-33.4,571,-27.6,632,-21.3,514,-15.7,687,-9.4,559,-3.6,612,
2.4,523,5.7,648,8.3,581,11.6,467,14.4,614,17.7,539,20.3,702,23.4,593,26.7,458,29.3,627,32.6,561,35.4,684,38.7,512,41.3,598,44.6,453,47.4,637,50.7,566,53.3,489,56.6,618,59.4,541,62.7,676,65.3,582,68.6,427,71.4,609,74.7,538,80.3,652,86.6,497,92.4,583,98.7,641,104.3,519,110.6,596,116.4,462,122.7,627,128.3,553,134.6,709,140.4,584,146.7,491,152.3,618,158.6,547,164.4,663,170.7,512,176.3,591,182.6,438,188.4,622,194.7,568,200.3,694,206.6,527,212.4,603,218.7,459,224.3,641,230.6,574,236.4,502,242.7,618,248.3,547,254.6,682,260.4,529,266.7,608,272.3,463,278.6,631,284.4,556,290.7,702,296.3,581,302.6,494,308.4,617,314.7,539,319.3,664
];

// Build event table
const eventGroups = [eventsMainBand, eventsMainBandB, eventsHighOutliers, eventsShoulder, eventsMiddle, eventsMiddleB, eventsNear1000, eventsLowBand, eventsLowBandB];
const events = [];
for (const g of eventGroups) {
  for (let i = 0; i + 1 < g.length; i += 2) events.push({t: g[i] / 1000, pha: g[i + 1]});
}

const W = 850, H = 680;
const mL = 85, mR = 86, mT = 68, mB = 69;
const innerH = H - mT - mB;
const innerW = W - mL - mR;
const font = "DejaVu Sans, sans-serif";
const majorLen = 8, minorLen = 4;

const chart = Plot.plot({
  width: W,
  height: H,
  marginLeft: mL,
  marginRight: mR,
  marginTop: mT,
  marginBottom: mB,
  style: {fontFamily: font, background: "#fff", color: "#000", overflow: "visible"},
  x: {domain: [-0.321, 0.320], axis: null},
  y: {domain: [0, 3000], axis: null},
  marks: [
    Plot.dot(events, {x: "t", y: "pha", r: 1.13, symbol: "square", fill: "#000", stroke: "none", shapeRendering: "crispEdges"}),
    Plot.ruleX(markerTimes, {x: d => d, stroke: "#1a8cff", strokeWidth: 1, strokeDasharray: "7,4", shapeRendering: "crispEdges"}),
    Plot.frame({stroke: "#000", strokeWidth: 1, shapeRendering: "crispEdges"}),
    Plot.tickX(xMajorTicks, {x: d => d, insetTop: innerH - majorLen, stroke: "#000", shapeRendering: "crispEdges"}),
    Plot.tickX(xMajorTicks, {x: d => d, insetBottom: innerH - majorLen, stroke: "#000", shapeRendering: "crispEdges"}),
    Plot.tickX(xMinorTicks, {x: d => d, insetTop: innerH - minorLen, stroke: "#000", shapeRendering: "crispEdges"}),
    Plot.tickX(xMinorTicks, {x: d => d, insetBottom: innerH - minorLen, stroke: "#000", shapeRendering: "crispEdges"}),
    Plot.tickY(yMajorTicks, {y: d => d, insetRight: innerW - majorLen, stroke: "#000", shapeRendering: "crispEdges"}),
    Plot.tickY(yMajorTicks, {y: d => d, insetLeft: innerW - majorLen, stroke: "#000", shapeRendering: "crispEdges"}),
    Plot.tickY(yMinorTicks, {y: d => d, insetRight: innerW - minorLen, stroke: "#000", shapeRendering: "crispEdges"}),
    Plot.tickY(yMinorTicks, {y: d => d, insetLeft: innerW - minorLen, stroke: "#000", shapeRendering: "crispEdges"}),
    Plot.text(xMajorTicks, {x: d => d, frameAnchor: "bottom", dy: 16.8, text: (d, i) => xTickLabels[i], fontSize: 14, fill: "#000", style: "letter-spacing:1.5px"}),
    Plot.text(yMajorTicks, {y: d => d, frameAnchor: "left", textAnchor: "middle", dx: -17.5, rotate: -90, text: (d, i) => yTickLabels[i], fontSize: 14, fill: "#000", style: "letter-spacing:1px"}),
    Plot.text([xLabelText], {frameAnchor: "bottom", dy: 38.9, text: d => d, fontSize: 16, fill: "#000"}),
    Plot.text([yLabelText], {frameAnchor: "left", textAnchor: "middle", dx: -47.5, rotate: -90, text: d => d, fontSize: 16, fill: "#000"}),
    Plot.text([titleText], {frameAnchor: "top", dy: -34.8, text: d => d, fontSize: 15, fill: "#000"}),
    Plot.text([fileText], {frameAnchor: "top-left", dx: 1, dy: -12.8, textAnchor: "start", text: d => d, fontSize: 15, fill: "#000"}),
    Plot.text([dateText], {frameAnchor: "bottom-right", dx: 83, dy: 57.3, textAnchor: "end", text: d => d, fontSize: 10.5, fill: "#000"})
  ]
});

document.getElementById("chart").appendChild(chart);
</script>
</body>
</html>
